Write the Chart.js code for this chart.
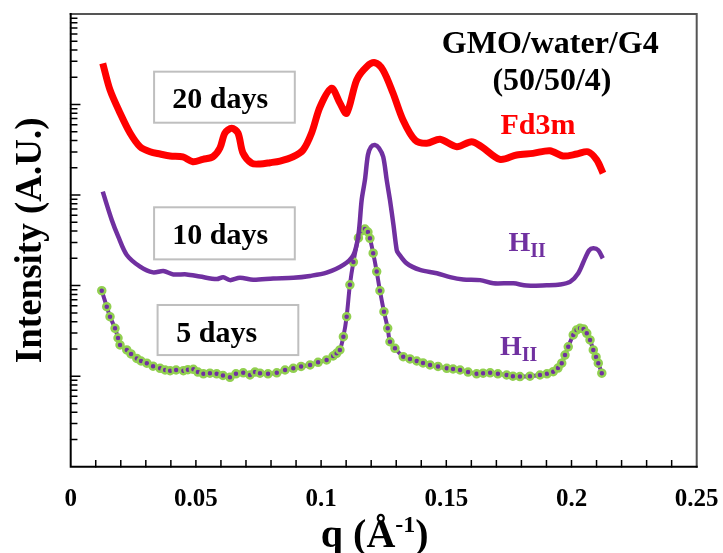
<!DOCTYPE html>
<html>
<head>
<meta charset="utf-8">
<script src="https://cdn.jsdelivr.net/npm/chart.js@4.4.0/dist/chart.umd.min.js"></script>
<style>
  body { margin: 0; background: #fff; }
  canvas { display: block; }
</style>
</head>
<body>
<canvas id="saxs" width="723" height="553"></canvas>
<script>
// 20 days (Fd3m)
var q20 = [0.0128, 0.0157, 0.0197, 0.0237, 0.0277, 0.0317, 0.0357, 0.0397, 0.0448, 0.0488,
  0.0528, 0.0568, 0.0596, 0.0616, 0.0643, 0.0668, 0.0688, 0.0723, 0.0756, 0.0796,
  0.0836, 0.0888, 0.0928, 0.0962, 0.0996, 0.1042, 0.1075, 0.1102, 0.1142, 0.1182,
  0.1215, 0.1247, 0.1287, 0.1327, 0.1375, 0.1422, 0.1475, 0.1542, 0.1601, 0.1641,
  0.1714, 0.1781, 0.1846, 0.1914, 0.1966, 0.2021, 0.2066, 0.2101, 0.2126];
var i20 = [28500, 14500, 8070, 4850, 3420, 3010, 2840, 2700, 2640, 2340,
  2480, 2650, 3310, 4850, 5470, 4850, 2915, 2244, 2204, 2279,
  2378, 2650, 3147, 4850, 9460, 15110, 10400, 8000, 18660, 26180,
  28980, 24090, 13400, 6750, 4060, 3730, 4130, 3420, 3890, 3420,
  2480, 2770, 2890, 3090, 2700, 2840, 3010, 2440, 1740];

// 10 days (HII)
var q10 = [0.0128, 0.0164, 0.0190, 0.0224, 0.0277, 0.0329, 0.0370, 0.0410, 0.0463, 0.0516,
  0.0583, 0.0609, 0.0636, 0.0676, 0.0729, 0.0809, 0.0889, 0.0956, 0.1022, 0.1089,
  0.1129, 0.1149, 0.1162, 0.1175, 0.1187, 0.1199, 0.1215, 0.1231, 0.1248, 0.1262,
  0.1275, 0.1289, 0.1302, 0.1308, 0.1342, 0.1395, 0.1462, 0.1515, 0.1568, 0.1635,
  0.1688, 0.1768, 0.1821, 0.1901, 0.1954, 0.1994, 0.2027, 0.2054, 0.2070, 0.2087,
  0.2107, 0.2125];
var i10 = [1090, 531, 347, 218, 162, 140, 145, 133, 133, 126,
  118, 124, 115, 122, 116, 120, 122, 128, 139, 169,
  218, 362, 883, 1468, 2770, 3400, 3570, 3310, 2650, 1468,
  883, 467, 247, 229, 176, 149, 137, 124, 117, 115,
  106, 106, 100, 101, 103, 110, 137, 200, 244, 258,
  246, 200];

// 5 days (HII)
var q5 = [0.0124, 0.0144, 0.0157, 0.0177, 0.0189, 0.0197, 0.0224, 0.0241, 0.0264, 0.0281,
  0.0304, 0.0329, 0.0357, 0.0377, 0.0397, 0.0421, 0.0450, 0.0468, 0.0490, 0.0508,
  0.0530, 0.0556, 0.0583, 0.0608, 0.0636, 0.0660, 0.0689, 0.0716, 0.0736, 0.0756,
  0.0788, 0.0823, 0.0856, 0.0889, 0.0920, 0.0956, 0.0988, 0.1022, 0.1048, 0.1062,
  0.1075, 0.1089, 0.1102, 0.1115, 0.1129, 0.1149, 0.1162, 0.1175, 0.1187, 0.1195,
  0.1208, 0.1222, 0.1235, 0.1251, 0.1266, 0.1275, 0.1295, 0.1328, 0.1355, 0.1382,
  0.1407, 0.1435, 0.1467, 0.1502, 0.1527, 0.1555, 0.1587, 0.1621, 0.1647, 0.1675,
  0.1706, 0.1741, 0.1766, 0.1794, 0.1834, 0.1874, 0.1902, 0.1927, 0.1946, 0.1961,
  0.1974, 0.1987, 0.2007, 0.2020, 0.2034, 0.2048, 0.2061, 0.2074, 0.2087, 0.2098,
  0.2107, 0.2121];
var i5 = [87.9, 58.5, 45.4, 33.8, 26.4, 22.1, 19.5, 17.6, 15.7, 14.7,
  13.9, 12.9, 12.2, 11.7, 11.5, 11.7, 11.5, 11.8, 11.9, 11.1,
  10.6, 10.8, 10.6, 10.2, 9.7, 10.6, 10.9, 10.3, 11.1, 10.8,
  10.6, 10.9, 11.7, 12.2, 12.8, 13.3, 14.2, 15.1, 16.7, 17.9,
  19.5, 27.3, 45.4, 102, 182, 336, 401, 422, 391, 333,
  228, 143, 87.9, 51.5, 33.8, 24.0, 20.3, 16.4, 15.5, 14.7,
  14.0, 13.3, 12.8, 12.2, 12.0, 11.7, 11.1, 10.6, 10.8, 10.9,
  10.6, 10.3, 10.0, 9.9, 10.0, 10.3, 10.6, 11.2, 12.3, 13.9,
  17.1, 21.1, 28.5, 32.3, 33.8, 33.2, 29.7, 25.1, 19.5, 16.3,
  13.9, 10.8];

var xTickLabels = ['0', '0.05', '0.1', '0.15', '0.2', '0.25'];

function pts(xs, ys) {
    return xs.map(function (x, i) { return { x: x, y: ys[i] }; });
}

var serif = '"Liberation Serif", "Times New Roman", serif';

// frame, inward ticks, x title and text notes
var decor = {
    id: 'decor',
    afterDatasetsDraw: function (chart) {
        var c = chart.ctx, a = chart.chartArea;
        var xs = chart.scales.x, ys = chart.scales.y;
        c.save();

        // frame
        c.lineCap = 'square';
        c.strokeStyle = '#555';
        c.lineWidth = 2;
        c.beginPath();
        c.moveTo(a.left, a.top); c.lineTo(a.right, a.top); c.lineTo(a.right, a.bottom);
        c.stroke();
        c.strokeStyle = '#000';
        c.beginPath();
        c.moveTo(a.left, a.top); c.lineTo(a.left, a.bottom); c.lineTo(a.right, a.bottom);
        c.stroke();

        // x ticks, every 0.01
        c.lineWidth = 1.5;
        c.beginPath();
        xs.ticks.forEach(function (t) {
            var px = xs.getPixelForValue(t.value);
            if (px <= a.left + 1 || px >= a.right - 1) return;
            c.moveTo(px, a.bottom); c.lineTo(px, a.bottom - 6);
        });
        // y ticks, log
        ys.ticks.forEach(function (t) {
            var py = ys.getPixelForValue(t.value);
            if (py <= a.top + 1 || py >= a.bottom - 1) return;
            var e = Math.log10(t.value);
            var len = Math.abs(e - Math.round(e)) < 1e-6 ? 9 : 6;
            c.moveTo(a.left, py); c.lineTo(a.left + len, py);
        });
        c.stroke();

        // boxes
        c.strokeStyle = '#bfbfbf';
        c.lineWidth = 2;
        [[0.0333, 0.0895, 23070, 6300], [0.0333, 0.0895, 733, 195], [0.0347, 0.0909, 61.1, 17.1]].forEach(function (b) {
            var x0 = xs.getPixelForValue(b[0]), x1 = xs.getPixelForValue(b[1]);
            var y0 = ys.getPixelForValue(b[2]), y1 = ys.getPixelForValue(b[3]);
            c.strokeRect(x0, y0, x1 - x0, y1 - y0);
        });

        c.textAlign = 'center';
        c.textBaseline = 'middle';
        function txt(s, qx, v, col) {
            c.fillStyle = col;
            c.fillText(s, xs.getPixelForValue(qx), ys.getPixelForValue(v));
        }
        c.font = 'bold 30px ' + serif;
        txt('20 days', 0.0597, 11200, '#000');
        txt('10 days', 0.0597, 347, '#000');
        txt('5 days', 0.0583, 29.2, '#000');
        c.font = 'bold 32px ' + serif;
        txt('GMO/water/G4', 0.1915, 45500, '#000');
        txt('(50/50/4)', 0.1922, 17900, '#000');
        c.font = 'bold 30px ' + serif;
        txt('Fd3m', 0.1866, 5690, '#ff0000');

        // H with subscript II
        function hii(qx, v) {
            var px = xs.getPixelForValue(qx), py = ys.getPixelForValue(v);
            c.fillStyle = '#7030a0';
            c.textAlign = 'left';
            c.font = 'bold 28px ' + serif;
            c.fillText('H', px, py);
            var w = c.measureText('H').width;
            c.font = 'bold 20px ' + serif;
            c.fillText('II', px + w, py + 8);
        }
        hii(0.1748, 293);
        hii(0.1714, 20.8);

        // x title q (Å-1)
        c.fillStyle = '#000';
        c.textAlign = 'left';
        c.textBaseline = 'alphabetic';
        var big = 'bold 40px ' + serif, small = 'bold 24px ' + serif;
        c.font = big;
        var w1 = c.measureText('q (\u00C5').width, w3 = c.measureText(')').width;
        c.font = small;
        var w2 = c.measureText('-1').width;
        var cx = (a.left + a.right) / 2 - 9;
        var sx = cx - (w1 + w2 + w3) / 2, base = 547;
        c.font = big; c.fillText('q (\u00C5', sx, base);
        c.font = small; c.fillText('-1', sx + w1, base - 15);
        c.font = big; c.fillText(')', sx + w1 + w2, base);

        c.restore();
    }
};

var ctx = document.getElementById('saxs').getContext('2d');
var chart = new Chart(ctx, {
    type: 'line',
    data: {
        datasets: [{
            label: '20 days',
            data: pts(q20, i20),
            borderColor: '#ff0000',
            borderWidth: 7,
            pointRadius: 0,
            tension: 0.3
        }, {
            label: '10 days',
            data: pts(q10, i10),
            borderColor: '#7030a0',
            borderWidth: 4.5,
            pointRadius: 0,
            tension: 0.3
        }, {
            label: '5 days',
            data: pts(q5, i5),
            borderColor: '#7030a0',
            borderWidth: 4,
            pointRadius: 3.5,
            pointBorderWidth: 2.5,
            pointBorderColor: '#92d050',
            pointBackgroundColor: '#7030a0',
            tension: 0.3
        }]
    },
    options: {
        responsive: false,
        animation: false,
        devicePixelRatio: 1,
        layout: { padding: { top: 14, right: 26.3, left: 0, bottom: 0 } },
        plugins: { legend: { display: false }, tooltip: { enabled: false } },
        scales: {
            x: {
                type: 'linear',
                min: 0,
                max: 0.25,
                grid: { display: false, drawTicks: false },
                border: { display: false },
                afterFit: function (s) {
                    s.height = 86.3;
                    s.paddingLeft = 0;
                    s.paddingRight = 0;
                },
                ticks: {
                    stepSize: 0.01,
                    autoSkip: false,
                    maxRotation: 0,
                    padding: 18,
                    color: '#000',
                    font: { family: serif, size: 25, weight: 'bold' },
                    callback: function (v) {
                        var k = Math.round(v * 100);
                        return k % 5 === 0 ? xTickLabels[k / 5] : '';
                    }
                }
            },
            y: {
                type: 'logarithmic',
                min: 1,
                max: 100000,
                grid: { display: false, drawTicks: false },
                border: { display: false },
                afterFit: function (s) {
                    s.width = 70.7;
                    s.paddingTop = 0;
                    s.paddingBottom = 0;
                },
                afterBuildTicks: function (s) {
                    var t = [];
                    for (var d = 1; d < 100000; d *= 10) {
                        for (var m = 1; m < 10; m++) t.push({ value: d * m });
                    }
                    t.push({ value: 100000 });
                    s.ticks = t;
                },
                ticks: { display: false },
                title: {
                    display: true,
                    text: 'Intensity (A.U.)',
                    color: '#000',
                    padding: { top: 9, bottom: 0 },
                    font: { family: serif, size: 37, weight: 'bold' }
                }
            }
        }
    },
    plugins: [decor]
});
</script>
</body>
</html>
